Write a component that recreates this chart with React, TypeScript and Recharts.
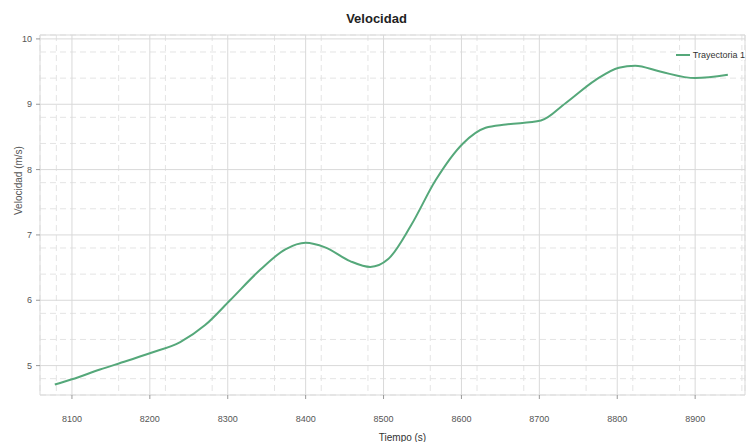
import React from 'react';
import { LineChart, Line, XAxis, YAxis, CartesianGrid } from 'recharts';

const tiempo = [
  8078, 8100, 8136, 8170, 8200, 8239, 8271, 8303, 8342, 8374, 8400, 8425, 8457, 8483,
  8506, 8535, 8567, 8602, 8631, 8657, 8702, 8734, 8772, 8802, 8823, 8855, 8900, 8942,
];
const velocidad = [
  4.71, 4.79, 4.94, 5.07, 5.19, 5.36, 5.62, 6.0, 6.47, 6.78, 6.88, 6.81, 6.6, 6.51,
  6.63, 7.14, 7.84, 8.4, 8.64, 8.69, 8.75, 9.02, 9.37, 9.56, 9.59, 9.5, 9.4, 9.45,
];

const xTicks = [8100, 8200, 8300, 8400, 8500, 8600, 8700, 8800, 8900];
const yTicks = [5, 6, 7, 8, 9, 10];
const xMinor = [
  8060, 8080, 8120, 8140, 8160, 8180, 8220, 8240, 8260, 8280, 8320, 8340, 8360, 8380,
  8420, 8440, 8460, 8480, 8520, 8540, 8560, 8580, 8620, 8640, 8660, 8680, 8720, 8740,
  8760, 8780, 8820, 8840, 8860, 8880, 8920, 8940, 8960,
];
const yMinor = [
  4.6, 4.8, 5.2, 5.4, 5.6, 5.8, 6.2, 6.4, 6.6, 6.8, 7.2, 7.4, 7.6, 7.8, 8.2, 8.4, 8.6,
  8.8, 9.2, 9.4, 9.6, 9.8,
];

const xDomain = [8059, 8964];
const yDomain = [4.55, 10.06];

const seriesName = 'Trayectoria 1';
const seriesColor = '#55a87a';

const data = tiempo.map((t, i) => ({ t, v: velocidad[i] }));

const font = '"Liberation Sans Narrow", "Liberation Sans", Arial, sans-serif';

export default function App() {
  return (
    <div style={{ position: 'absolute', left: 0, top: 0, width: 753, height: 442, background: '#fff', fontFamily: font }}>
      <div
        style={{
          position: 'absolute',
          top: 11,
          left: 0,
          width: 753,
          textAlign: 'center',
          fontSize: 13,
          fontWeight: 'bold',
          color: '#222',
        }}
      >
        Velocidad
      </div>
      {/* legend drawn by hand so it does not shrink the plot */}
      <div
        style={{
          position: 'absolute',
          top: 50,
          right: 8,
          display: 'flex',
          alignItems: 'center',
          fontSize: 9,
          color: '#333',
          background: '#fff',
          zIndex: 2,
        }}
      >
        <svg width={14} height={4} style={{ marginRight: 3 }}>
          <line x1={0} y1={2} x2={14} y2={2} stroke={seriesColor} strokeWidth={2} />
        </svg>
        {seriesName}
      </div>
      <LineChart width={753} height={442} data={data} margin={{ top: 35, right: 8, bottom: 0, left: 0 }}>
        <XAxis xAxisId="minor" dataKey="t" type="number" domain={xDomain} ticks={xMinor} hide allowDataOverflow />
        <YAxis yAxisId="minor" type="number" domain={yDomain} ticks={yMinor} hide allowDataOverflow width={40} />
        <CartesianGrid xAxisId="minor" yAxisId="minor" stroke="#e4e4e4" strokeDasharray="6 4" />
        <CartesianGrid stroke="#d9d9d9" />
        <XAxis
          dataKey="t"
          type="number"
          domain={xDomain}
          ticks={xTicks}
          allowDataOverflow
          height={47}
          axisLine={false}
          tickLine={{ stroke: '#999' }}
          tickSize={4}
          tickMargin={17}
          tick={{ fontSize: 9, fill: '#555', fontFamily: font }}
          label={{ value: 'Tiempo (s)', position: 'insideBottom', offset: 1, dx: 10, fontSize: 10, fill: '#333', fontFamily: font }}
        />
        <YAxis
          type="number"
          domain={yDomain}
          ticks={yTicks}
          allowDataOverflow
          width={40}
          axisLine={false}
          tickLine={{ stroke: '#999' }}
          tickSize={4}
          tickMargin={4}
          tick={{ fontSize: 9, fill: '#555', fontFamily: font }}
          label={{ value: 'Velocidad (m/s)', angle: -90, position: 'insideLeft', offset: 18, fontSize: 10, fill: '#555', fontFamily: font }}
        />
        <Line
          dataKey="v"
          name={seriesName}
          type="monotone"
          stroke={seriesColor}
          strokeWidth={2}
          dot={false}
          isAnimationActive={false}
        />
      </LineChart>
    </div>
  );
}
